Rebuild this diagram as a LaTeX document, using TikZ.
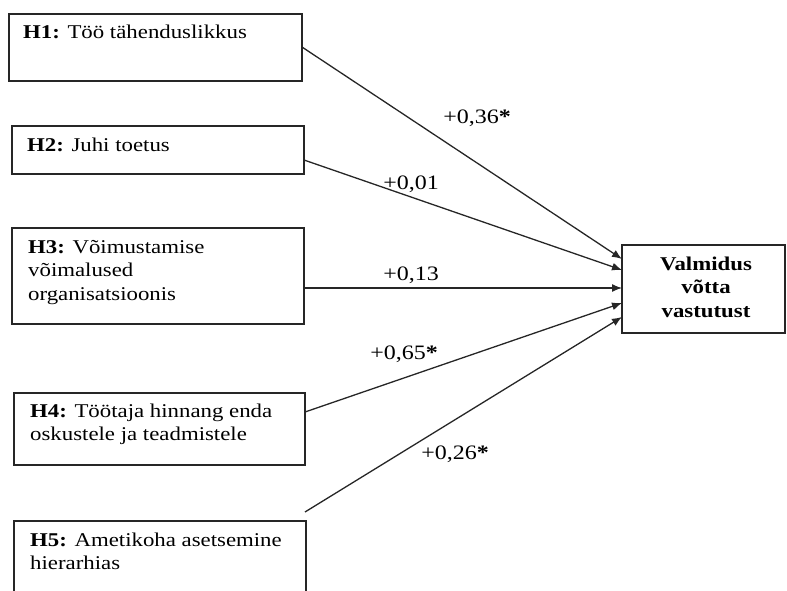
\documentclass[tikz,border=0pt]{standalone}
\usepackage{fontspec}
\setmainfont{Liberation Serif}[FakeStretch=1.17]
\usetikzlibrary{arrows.meta}
\begin{document}
\begin{tikzpicture}[x=1pt, y=-1pt,
  box/.style={draw=black!85, line width=1.4pt, rectangle, inner sep=0pt},
  txt/.style={font=\fontsize{19.5}{23.5}\selectfont, inner sep=0pt, align=left, anchor=base west},
  coef/.style={font=\fontsize{20.5}{24}\selectfont, inner sep=0pt, anchor=base},
  link/.style={draw=black!85, line width=1.3pt, -{Latex[length=10pt,width=8pt]}}]
  \useasboundingbox (0,0) rectangle (787,591);

  % hypothesis boxes
  \node[box, minimum width=293pt, minimum height=67pt] (h1) at (155.5,47.5) {};
  \node[box, minimum width=292pt, minimum height=48pt] (h2) at (158,150) {};
  \node[box, minimum width=292pt, minimum height=96pt] (h3) at (158,276) {};
  \node[box, minimum width=291pt, minimum height=72pt] (h4) at (159.5,429) {};
  \node[box, minimum width=292pt, minimum height=80pt] (h5) at (160,561) {};

  % box texts (placed by the baseline of their last line)
  \node[txt] (h1t) at (23,39) {\textbf{H1:} Töö tähenduslikkus};
  \node[txt] (h2t) at (27,152) {\textbf{H2:} Juhi toetus};
  \node[txt] (h3t) at (28,300) {\textbf{H3:} Võimustamise\\võimalused\\organisatsioonis};
  \node[txt] (h4t) at (30,440.5) {\textbf{H4:} Töötaja hinnang enda\\oskustele ja teadmistele};
  \node[txt] (h5t) at (30,569.5) {\textbf{H5:} Ametikoha asetsemine\\hierarhias};

  % outcome box
  \node[box, minimum width=163pt, minimum height=88pt] (t) at (703.5,289) {};
  \node[font=\fontsize{19.5}{23.5}\selectfont\bfseries, inner sep=0pt, align=center, anchor=base] (tt) at (706,317) {Valmidus\\võtta\\vastutust};

  % connector end points
  \coordinate (s2) at (304,160);
  \coordinate (s3) at (304,288);
  \coordinate (s4) at (305,412);
  \coordinate (s5) at (305,512);
  \coordinate (e1) at (622,259);
  \coordinate (e2) at (622,270);
  \coordinate (e3) at (622,288);
  \coordinate (e4) at (622,303);
  \coordinate (e5) at (622,317);

  \draw[link] (h1.east) -- (e1);
  \draw[link] (s2) -- (e2);
  \draw[link] (s3) -- (e3);
  \draw[link] (s4) -- (e4);
  \draw[link] (s5) -- (e5);

  % path coefficients
  \node[coef] (c1) at (477,124) {+0,36\textbf{*}};
  \node[coef] (c2) at (411,189) {+0,01};
  \node[coef] (c3) at (411,280) {+0,13};
  \node[coef] (c4) at (404,359.5) {+0,65\textbf{*}};
  \node[coef] (c5) at (455,459.5) {+0,26\textbf{*}};
\end{tikzpicture}
\end{document}
